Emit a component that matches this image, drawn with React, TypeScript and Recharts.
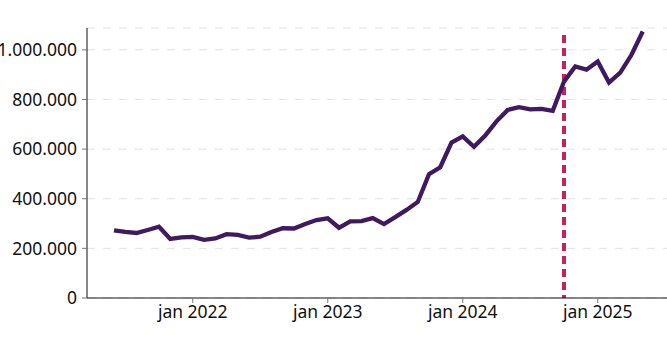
import { LineChart, Line, XAxis, YAxis, CartesianGrid, ReferenceLine } from "recharts";

// month index: 0 = jan 2021
const months = [
  5, 6, 7, 8, 9, 10, 11, 12, 13, 14, 15, 16, 17, 18, 19, 20, 21, 22, 23, 24, 25, 26, 27, 28,
  29, 30, 31, 32, 33, 34, 35, 36, 37, 38, 39, 40, 41, 42, 43, 44, 45, 46, 47, 48, 49, 50, 51, 52,
];
const values = [
  273000, 266000, 262000, 274000, 287000, 238000, 244000, 246000, 234000, 240000, 257000, 254000,
  243000, 247000, 266000, 281000, 280000, 298000, 314000, 321000, 283000, 309000, 310000, 322000,
  298000, 326000, 355000, 387000, 499000, 527000, 626000, 651000, 609000, 655000, 712000, 758000,
  769000, 760000, 762000, 754000, 872000, 933000, 920000, 953000, 868000, 908000, 980000, 1074000,
];
const yearTicks = [12, 24, 36, 48];
const yearLabels = ["jan 2022", "jan 2023", "jan 2024", "jan 2025"];
const valueTicks = [0, 200000, 400000, 600000, 800000, 1000000];
const markerMonth = 45;
const markerTop = 1060000;

const data = months.map((m, i) => ({ month: m, value: values[i] }));

const fmt = (v: number) => v.toLocaleString("de-DE");

const font = { fontFamily: "'Noto Sans', sans-serif", fontSize: 17.5, fill: "#111" };

export default function App() {
  return (
    <div style={{ position: "absolute", left: 0, top: 0, width: 667, height: 340, overflow: "hidden", background: "#fff" }}>
      <LineChart width={680} height={340} data={data} margin={{ top: 28, right: 8, bottom: 12, left: 0 }}>
        <CartesianGrid vertical={false} stroke="#e2e2e2" strokeDasharray="8 8" />
        <XAxis
          dataKey="month"
          type="number"
          domain={[2.6, 54.6]}
          ticks={yearTicks}
          tickFormatter={(v) => yearLabels[yearTicks.indexOf(v)]}
          allowDataOverflow
          height={30}
          stroke="#111"
          tickSize={5}
          tickMargin={3}
          tickLine={{ stroke: "#777" }}
          tick={font}
        />
        <YAxis
          width={87}
          domain={[0, 1088000]}
          ticks={valueTicks}
          tickFormatter={fmt}
          allowDataOverflow
          stroke="#111"
          tickSize={5}
          tickMargin={5}
          tickLine={{ stroke: "#777" }}
          tick={font}
        />
        <ReferenceLine
          segment={[
            { x: markerMonth, y: markerTop },
            { x: markerMonth, y: 0 },
          ]}
          stroke="#c8215a"
          strokeWidth={4}
          strokeDasharray="8 5"
        />
        <Line
          type="linear"
          dataKey="value"
          stroke="#3f1a5e"
          strokeWidth={4.3}
          dot={false}
          isAnimationActive={false}
        />
      </LineChart>
    </div>
  );
}
